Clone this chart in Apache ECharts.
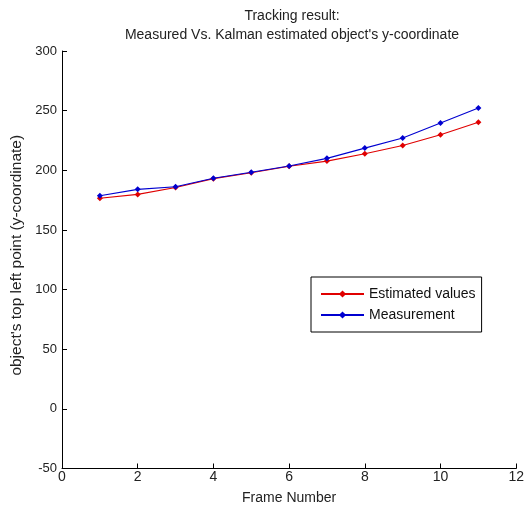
<!DOCTYPE html>
<html><head><meta charset="utf-8">
<script src="https://cdn.jsdelivr.net/npm/echarts@6/dist/echarts.min.js"></script>
<style>html,body{margin:0;padding:0;background:#fff}#c{width:527px;height:513px}</style>
</head><body><div id="c"></div>
<script>
const frames = [1,2,3,4,5,6,7,8,9,10,11];
const estimated = [176.5,179.8,185.5,193.0,198.0,203.4,207.7,213.9,220.8,229.8,240.2];
const measurement = [178.7,184.0,186.2,193.3,198.3,203.6,210.0,218.6,227.0,239.6,252.2];
const titleLines = ["Tracking result:", "Measured Vs. Kalman estimated object's y-coordinate"];
const xName = "Frame Number";
const yName = "object's top left point (y-coordinate)";
const seriesNames = ["Estimated values", "Measurement"];

const font = "Liberation Sans";
const chart = echarts.init(document.getElementById('c'), null, {renderer:'canvas'});
function pairs(v){ return frames.map((f,i)=>[f,v[i]]); }
chart.setOption({
  animation:false,
  backgroundColor:'#fff',
  title:{text:titleLines.join('\n'), left:287, textAlign:'center', top:1,
    textStyle:{fontFamily:font,fontSize:14,fontWeight:'normal',color:'#222',lineHeight:19.5}},
  grid:{left:62, right:8, top:51, bottom:44.5},
  legend:{orient:'vertical', left:311, top:277, data:seriesNames,
    backgroundColor:'#fff', borderColor:'#000', borderWidth:1, borderRadius:0,
    padding:[9,6,9,9], itemGap:5, itemWidth:43, itemHeight:9,
    textStyle:{fontFamily:font,fontSize:14,color:'#111',lineHeight:16}},
  xAxis:{type:'value', min:0, max:12, interval:2, name:xName, nameLocation:'middle', nameGap:23,
    nameTextStyle:{fontFamily:font,fontSize:14,color:'#222'},
    axisLine:{onZero:false,lineStyle:{color:'#000',width:1}},
    axisTick:{inside:true,length:5,lineStyle:{color:'#000'}},
    axisLabel:{fontFamily:font,fontSize:14,color:'#222',margin:2},
    splitLine:{show:false}},
  yAxis:{type:'value', min:-50, max:300, interval:50, name:yName, nameLocation:'middle', nameGap:30,
    nameTextStyle:{fontFamily:font,fontSize:15.5,color:'#222',padding:[0,0,0,9]},
    axisLine:{onZero:false,lineStyle:{color:'#000',width:1}},
    axisTick:{inside:true,length:5,lineStyle:{color:'#000'}},
    axisLabel:{fontFamily:font,fontSize:13,color:'#222',margin:5},
    splitLine:{show:false}},
  series:[
    {name:seriesNames[0], type:'line', data:pairs(estimated), color:'#e00000',
     symbol:'diamond', symbolSize:6, showSymbol:true, lineStyle:{width:1.1,color:'#e00000'}, itemStyle:{color:'#e00000'}},
    {name:seriesNames[1], type:'line', data:pairs(measurement), color:'#0000d0',
     symbol:'diamond', symbolSize:6, showSymbol:true, lineStyle:{width:1.1,color:'#0000d0'}, itemStyle:{color:'#0000d0'}}
  ]
});
</script></body></html>
